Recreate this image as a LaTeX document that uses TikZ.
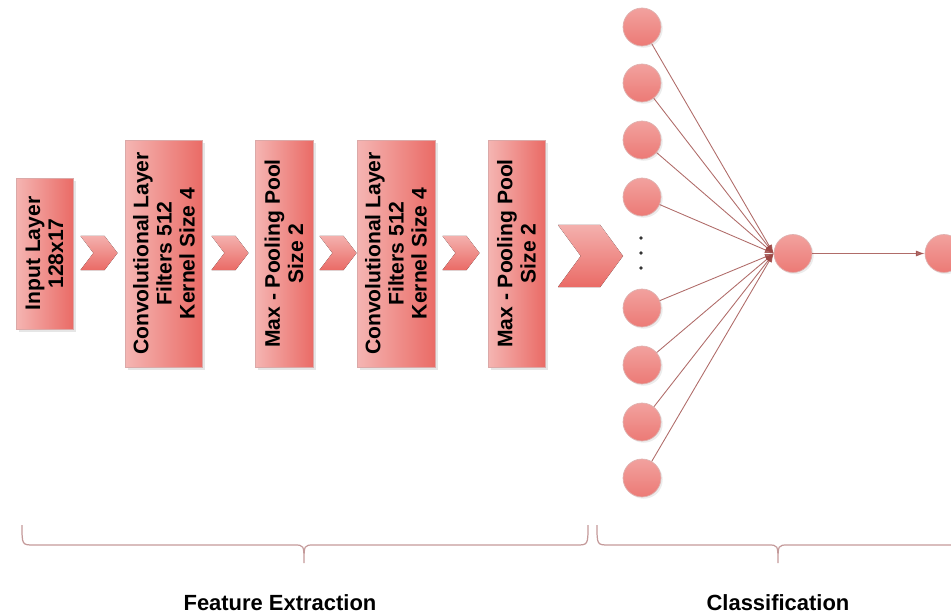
\documentclass[tikz,border=0pt]{standalone}
\usepackage{fontspec}
\setmainfont{Liberation Sans}
\usepackage[dvipsnames]{xcolor}
\definecolor{CNNlight}{HTML}{F8CECC}
\definecolor{CNNdark}{HTML}{EA6B66}
\definecolor{CNNline}{HTML}{B85450}
\definecolor{BRACEcolor}{HTML}{C49A9A}
\usepackage{tikz}
\usetikzlibrary{math,arrows.meta,shadows}

\begin{document}
\begin{tikzpicture}[x=0.02cm, y=-0.02cm]

    \tikzset{%
        layer/.style={draw=CNNline!50, left color=CNNlight!75!CNNdark, right color=CNNdark, rotate=90, align=center,
                font=\bfseries\fontsize{12}{13.2}\selectfont, inner sep=0pt,
                drop shadow={opacity=0.2, shadow xshift=1.5pt, shadow yshift=-1.5pt}},
        neuron/.style={circle, draw=CNNline!45, top color=CNNlight!55!CNNdark, bottom color=CNNdark!90, minimum size=0.76cm, inner sep=0pt,
                drop shadow={opacity=0.15, shadow xshift=1pt, shadow yshift=-1pt}},
        link/.style={draw=CNNline!85!black, opacity=0.8, line width=0.5pt, -{Latex[length=5pt, width=3.5pt]}},
        brace/.style={draw=BRACEcolor, line width=0.7pt},
        stage/.style={font=\bfseries\fontsize{12.5}{14}\selectfont},
        pics/chevron/.style args={#1/#2}{%
                code={%

                        \tikzmath{%
                            \w=#1;
                            \h=#2;
                            \s=0.35*#1;
                        };

                        \fill [top color=CNNlight!70!CNNdark, bottom color=CNNdark] (-\w/2, -\h/2) -- ++(\w-\s, 0) -- (\w/2, 0)
                            -- (\w/2-\s, \h/2) -- (-\w/2, \h/2) -- (-\w/2+\s, 0) -- cycle;

                    }
            }
    }

    \useasboundingbox (0, 0) rectangle (951, 615);

    \node [layer, minimum width=3.02cm, minimum height=1.14cm] (inp) at (44.5, 253.5) {Input Layer\\128x17};
    \node [layer, minimum width=4.54cm, minimum height=1.54cm] (conva) at (164, 253.5) {Convolutional Layer\\Filters 512\\Kernel Size 4};
    \node [layer, minimum width=4.54cm, minimum height=1.16cm] (poola) at (284, 253.5) {Max - Pooling Pool\\Size 2};
    \node [layer, minimum width=4.54cm, minimum height=1.56cm] (convb) at (396, 253.5) {Convolutional Layer\\Filters 512\\Kernel Size 4};
    \node [layer, minimum width=4.54cm, minimum height=1.14cm] (poolb) at (516.5, 253.5) {Max - Pooling Pool\\Size 2};

    \pic at (99, 253) {chevron=37/34};
    \pic at (230, 253) {chevron=37/34};
    \pic at (338, 253) {chevron=37/34};
    \pic at (461, 253) {chevron=37/34};
    \pic at (590.5, 256) {chevron=65/62};

    \foreach \y [count=\i] in {27, 83, 140, 197, 308, 365, 422, 478} {%
            \node [neuron] (in\i) at (642, \y) {};
        }
    \foreach \y in {238, 253, 268} {%
            \fill [black!80] (641, \y) circle [radius=1pt];
        }

    \node [neuron] (hid) at (793, 253.5) {};
    \node [neuron] (out) at (944, 253.5) {};

    \foreach \i in {1, ..., 8} {%
            \draw [link] (in\i) -- (hid.west);
        }
    \draw [link] (hid) -- (out);

    \draw [brace] (22, 525) .. controls (22, 545) .. (34, 545) -- (294, 545) .. controls (304, 545) .. (304, 563)
        .. controls (304, 545) .. (314, 545) -- (576, 545) .. controls (588, 545) .. (588, 525);
    \draw [brace] (597, 525) .. controls (597, 545) .. (609, 545) -- (768, 545) .. controls (778, 545) .. (778, 563)
        .. controls (778, 545) .. (788, 545) -- (947, 545) .. controls (959, 545) .. (959, 525);

    \node [stage] (feat) at (280, 603) {Feature Extraction};
    \node [stage] (clas) at (778, 603) {Classification};

\end{tikzpicture}
\end{document}
